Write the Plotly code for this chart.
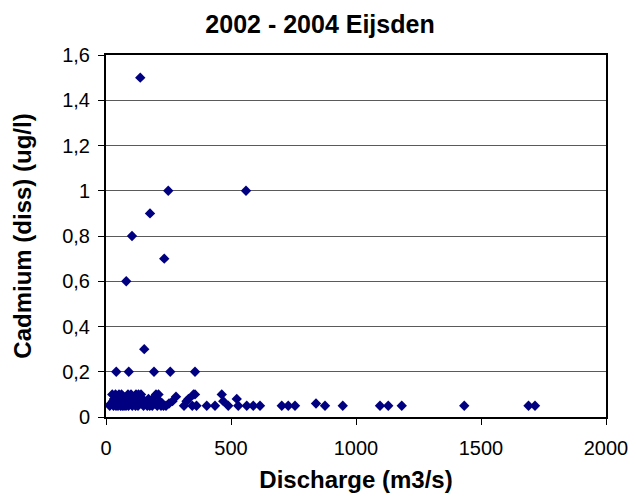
import plotly.graph_objects as go

# Discharge (m3/s) and dissolved cadmium (ug/l), Eijsden 2002-2004
discharge_high = [137, 249, 560, 176, 104, 233, 81, 153, 41, 91, 192, 257, 356]
cadmium_high = [1.5, 1.0, 1.0, 0.9, 0.8, 0.7, 0.6, 0.3, 0.2, 0.2, 0.2, 0.2, 0.2]

discharge_low = [
    15, 20, 25, 28, 30, 32, 35, 38, 40, 42, 45, 48, 50, 52, 55, 58, 60, 62, 65, 68,
    70, 72, 75, 78, 80, 85, 88, 90, 95, 98, 100, 105, 110, 115, 118, 120, 125, 128,
    130, 135, 140, 145, 150, 155, 160, 165, 170, 175, 180, 185, 190, 195, 200, 205,
    210, 215, 220, 225, 230,
    240, 252, 266, 280, 312, 322, 330, 345, 350, 356, 362,
    403, 436, 463, 469, 489, 523, 529, 563, 589, 616, 703, 729, 756, 840, 876, 947,
    1096, 1129, 1183, 1433, 1690, 1716,
]
cadmium_low = [
    0.05, 0.06, 0.1, 0.07, 0.05, 0.08, 0.06, 0.1, 0.05, 0.07, 0.09, 0.05, 0.06, 0.1, 0.08, 0.05, 0.07, 0.1, 0.05, 0.06,
    0.09, 0.05, 0.08, 0.07, 0.05, 0.06, 0.1, 0.05, 0.07, 0.08, 0.1, 0.05, 0.06, 0.09, 0.05, 0.1, 0.07, 0.05,
    0.1, 0.06, 0.1, 0.08, 0.05, 0.07, 0.06, 0.05, 0.08, 0.05, 0.07, 0.05, 0.06, 0.09, 0.1, 0.05,
    0.1, 0.07, 0.05, 0.06, 0.05,
    0.05, 0.06, 0.07, 0.09, 0.05, 0.07, 0.08, 0.05, 0.1, 0.1, 0.05,
    0.05, 0.05, 0.1, 0.07, 0.05, 0.08, 0.05, 0.05, 0.05, 0.05, 0.05, 0.05, 0.05, 0.06, 0.05, 0.05,
    0.05, 0.05, 0.05, 0.05, 0.05, 0.05,
]

x_ticks = [0, 500, 1000, 1500, 2000]
y_ticks = [0, 0.2, 0.4, 0.6, 0.8, 1.0, 1.2, 1.4, 1.6]

font_family = "Arial, 'Liberation Sans', sans-serif"

fig = go.Figure()
fig.add_trace(go.Scatter(
    x=discharge_low + discharge_high,
    y=cadmium_low + cadmium_high,
    mode="markers",
    marker=dict(symbol="diamond", size=8, color="#000080", line=dict(width=0)),
    showlegend=False,
    cliponaxis=False,
))

fig.update_layout(
    width=636, height=497,
    margin=dict(l=106, r=30, t=55, b=80, autoexpand=False),
    paper_bgcolor="white", plot_bgcolor="white",
    separators=",.",
    font=dict(family=font_family, color="black", size=20),
    title=dict(text="<b>2002 - 2004 Eijsden</b>", x=320 / 636, xanchor="center",
               y=1 - 24 / 497, yanchor="middle", yref="container",
               font=dict(size=25, family=font_family, color="black")),
    xaxis=dict(
        range=[0, 2000], tickvals=x_ticks, ticks="outside", ticklen=6, tickwidth=1,
        tickcolor="black", showline=True, linecolor="black", linewidth=2, mirror=True,
        showgrid=False, zeroline=False, ticklabelstandoff=6, automargin=False,
        title=dict(text="<b>Discharge (m3/s)</b>", font=dict(size=24), standoff=13),
    ),
    yaxis=dict(
        range=[0, 1.6], tickvals=y_ticks, ticks="outside", ticklen=6, tickwidth=1,
        tickcolor="black", showline=True, linecolor="black", linewidth=2, mirror=True,
        showgrid=True, gridcolor="#5a5a5a", gridwidth=1, zeroline=False,
        ticklabelstandoff=4, automargin=False,
        title=dict(text="<b>Cadmium (diss) (ug/l)</b>", font=dict(size=24), standoff=24),
    ),
)

fig.write_html("out.html", config={"displayModeBar": False},
               post_script="document.body.style.margin='0';")
